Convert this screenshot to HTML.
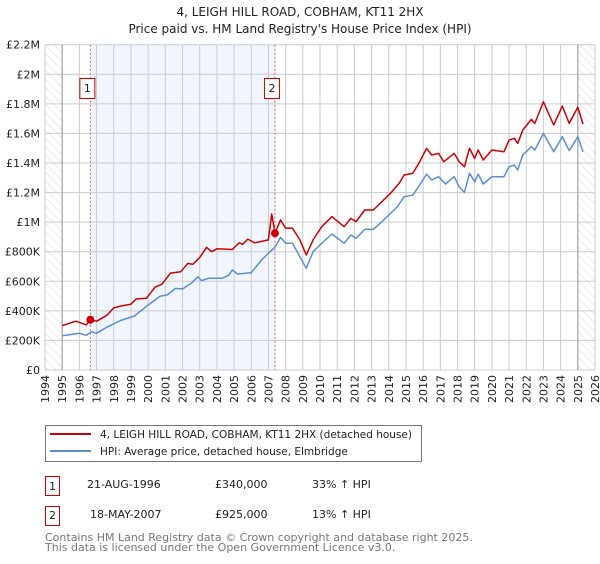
<!DOCTYPE html>
<html><head><meta charset="utf-8"><style>
body{margin:0;background:#fff;font-family:"DejaVu Sans","Liberation Sans",sans-serif;}
svg text{font-family:"DejaVu Sans","Liberation Sans",sans-serif;}
</style></head><body>
<svg width="600" height="560" viewBox="0 0 600 560">
<defs>
<pattern id="hatch" width="6" height="6" patternUnits="userSpaceOnUse" patternTransform="rotate(-45)">
<line x1="0" y1="0" x2="0" y2="6" stroke="#cccccc" stroke-width="0.8"/>
</pattern>
</defs>
<text x="300" y="16" text-anchor="middle" font-size="12" fill="#222">4, LEIGH HILL ROAD, COBHAM, KT11 2HX</text>
<text x="300" y="33" text-anchor="middle" font-size="12" fill="#222">Price paid vs. HM Land Registry's House Price Index (HPI)</text>
<g id="plot"></g>
<g>
<rect x="45.5" y="425.5" width="376" height="36" fill="#fff" stroke="#777"/>
<line x1="50" y1="434" x2="91" y2="434" stroke="#cc0000" stroke-width="2"/>
<text x="100" y="438" font-size="10.5" fill="#222">4, LEIGH HILL ROAD, COBHAM, KT11 2HX (detached house)</text>
<line x1="50" y1="451" x2="91" y2="451" stroke="#5b8fd0" stroke-width="2"/>
<text x="100" y="455" font-size="10.5" fill="#222">HPI: Average price, detached house, Elmbridge</text>
</g>
<g font-size="11" fill="#222">
<rect x="45.5" y="476.5" width="14" height="19" fill="#fff" stroke="#cc0000"/>
<text x="52.5" y="490" text-anchor="middle">1</text>
<text x="87" y="488">21-AUG-1996</text>
<text x="215" y="488">£340,000</text>
<text x="312" y="488">33% ↑ HPI</text>
<rect x="45.5" y="506.5" width="14" height="19" fill="#fff" stroke="#cc0000"/>
<text x="52.5" y="519" text-anchor="middle">2</text>
<text x="90" y="518">18-MAY-2007</text>
<text x="215" y="518">£925,000</text>
<text x="312" y="518">13% ↑ HPI</text>
</g>
<text x="45" y="541" font-size="11" fill="#777">Contains HM Land Registry data © Crown copyright and database right 2025.</text>
<text x="45" y="551" font-size="11" fill="#777">This data is licensed under the Open Government Licence v3.0.</text>
</svg>
<script>
const yTickValues=[0,200000,400000,600000,800000,1000000,1200000,1400000,1600000,1800000,2000000,2200000];
const yTickLabels=["£0","£200K","£400K","£600K","£800K","£1M","£1.2M","£1.4M","£1.6M","£1.8M","£2M","£2.2M"];
const xYears=[1994,1995,1996,1997,1998,1999,2000,2001,2002,2003,2004,2005,2006,2007,2008,2009,2010,2011,2012,2013,2014,2015,2016,2017,2018,2019,2020,2021,2022,2023,2024,2025,2026];
const hpiDates=[1995.0,1995.5,1996.0,1996.4,1996.7,1997.0,1997.6,1998.4,1999.2,1999.9,2000.7,2001.1,2001.6,2002.0,2002.5,2002.9,2003.1,2003.5,2004.3,2004.7,2004.9,2005.2,2006.0,2006.6,2007.0,2007.4,2007.7,2008.0,2008.4,2008.83,2009.2,2009.6,2010.1,2010.7,2011.4,2011.8,2012.1,2012.6,2013.1,2013.6,2014.0,2014.5,2014.9,2015.4,2015.8,2016.2,2016.5,2016.9,2017.3,2017.8,2018.1,2018.4,2018.7,2019.0,2019.2,2019.5,2020.0,2020.7,2021.0,2021.3,2021.5,2021.8,2022.3,2022.5,2023.0,2023.6,2024.1,2024.5,2025.0,2025.3];
const hpiValues=[232,240,248,235,259,248,290,335,365,430,500,507,552,548,586,631,604,620,620,642,676,649,658,744,789,834,897,857,857,766,688,800,857,920,857,913,890,951,951,1003,1048,1104,1172,1183,1251,1325,1285,1307,1258,1307,1240,1201,1330,1273,1325,1258,1307,1307,1375,1386,1352,1454,1510,1488,1600,1476,1578,1483,1578,1476];
const priceDates=[1995.0,1995.8,1996.4,1996.64,1997.0,1997.6,1998.0,1998.5,1999.0,1999.3,1999.9,2000.4,2000.8,2001.3,2001.9,2002.3,2002.6,2003.0,2003.4,2003.7,2004.0,2004.9,2005.3,2005.5,2005.8,2006.2,2006.6,2007.0,2007.19,2007.38,2007.7,2008.0,2008.4,2008.83,2009.2,2009.6,2010.1,2010.7,2011.4,2011.8,2012.1,2012.6,2013.1,2013.6,2014.1,2014.6,2014.9,2015.4,2015.8,2016.2,2016.5,2016.9,2017.2,2017.8,2018.1,2018.4,2018.7,2019.0,2019.2,2019.5,2020.0,2020.7,2021.0,2021.3,2021.5,2021.8,2022.3,2022.5,2023.0,2023.6,2024.1,2024.5,2025.0,2025.3];
const priceValues=[300,330,305,340,330,370,420,435,445,480,485,560,580,655,665,720,715,760,830,800,820,815,860,850,885,860,870,880,1055,925,1015,960,960,880,778,880,969,1037,969,1025,1003,1082,1082,1138,1195,1262,1319,1330,1409,1499,1454,1465,1409,1465,1409,1375,1499,1431,1488,1420,1488,1476,1555,1567,1533,1623,1695,1668,1814,1657,1785,1668,1778,1663];
const saleDates=[1996.64,2007.38];
const saleValues=[340000,925000];
const saleLabels=["1","2"];

const NS="http://www.w3.org/2000/svg";
const X0=45,X1=595,Y0=370,Y1=44.7;
const xs=yr=>X0+(yr-1994)/(2026-1994)*(X1-X0);
const ys=v=>Y0-v/2200000*(Y0-Y1);
const plot=document.getElementById('plot');
function mk(tag,attrs,parent){const e=document.createElementNS(NS,tag);for(const k in attrs)e.setAttribute(k,attrs[k]);(parent||plot).appendChild(e);return e;}

let r=mk('rect',{x:xs(saleDates[0]),y:Y1,width:xs(saleDates[1])-xs(saleDates[0]),height:Y0-Y1,fill:'#f1f5fd'});


let h1=mk('rect',{x:X0,y:Y1,width:xs(1995)-X0,height:Y0-Y1,fill:'url(#hatch)'});


let h2=mk('rect',{x:xs(2025),y:Y1,width:X1-xs(2025),height:Y0-Y1,fill:'url(#hatch)'});



yTickValues.forEach((v,i)=>{
 const g=mk('line',{x1:X0,x2:X1,y1:ys(v),y2:ys(v),stroke:'#cccccc','stroke-width':1});
 
 
 const t=mk('text',{x:40,y:ys(v)+4,'text-anchor':'end','font-size':11,fill:'#222'});
 t.textContent=yTickLabels[i];
 
 
});
xYears.forEach(yr=>{
 const g=mk('line',{x1:xs(yr),x2:xs(yr),y1:Y1,y2:Y0,stroke:'#cccccc','stroke-width':1});
 
 
 const t=mk('text',{x:0,y:0,'text-anchor':'end','font-size':11,fill:'#222',transform:`translate(${xs(yr)+4},${375}) rotate(-90)`});
 t.textContent=yr;
 
 
});
[1995,2025].forEach(yr=>{
 const l=mk('line',{x1:xs(yr),x2:xs(yr),y1:Y1,y2:Y0,stroke:'#999','stroke-width':1});
 
 
});
saleDates.forEach((d,i)=>{
 const l=mk('line',{x1:xs(d),x2:xs(d),y1:Y1,y2:Y0,stroke:'#e06060','stroke-width':1,'stroke-dasharray':'2,2'});
 
 
});
function path(dates,vals,color,name){
 const d=dates.map((t,i)=>(i?'L':'M')+xs(t).toFixed(1)+','+ys(vals[i]*1000).toFixed(1)).join('');
 const p=mk('path',{d:d,fill:'none',stroke:color,'stroke-width':1.5,'stroke-linejoin':'round'});
 
 
}
path(hpiDates,hpiValues,'#5b8fd0','hpi-line');
path(priceDates,priceValues,'#cc0000','price-line');
saleDates.forEach((d,i)=>{
 const c=mk('circle',{cx:xs(d),cy:ys(saleValues[i]),r:4,fill:'#cc0000'});
 
 
 const b=mk('rect',{x:xs(d)-10.5,y:78.5,width:15,height:20,fill:'#fff',stroke:'#cc0000'});
 
 
 const t=mk('text',{x:xs(d)-3,y:92,'text-anchor':'middle','font-size':11,fill:'#222'});
 t.textContent=saleLabels[i];
 
 
});
</script>
</body></html>
